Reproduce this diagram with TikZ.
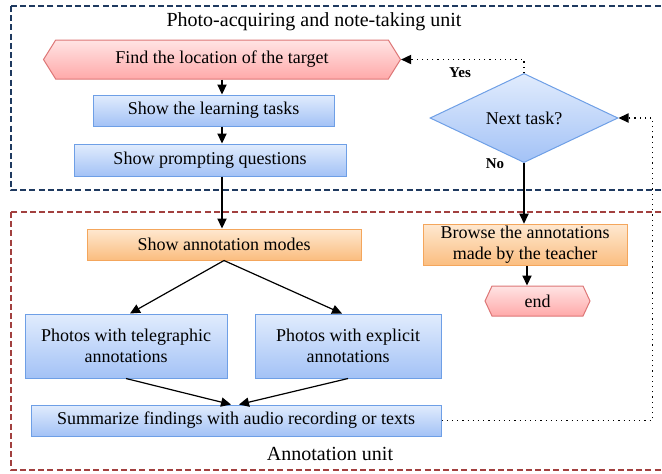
\documentclass[tikz,border=0pt]{standalone}
\usepackage{fontspec}
\setmainfont{Liberation Serif}
\usetikzlibrary{arrows.meta,positioning,calc,shapes.geometric,shapes.symbols}

\definecolor{bluetop}{HTML}{E1ECFD}
\definecolor{bluebot}{HTML}{A3C2F6}
\definecolor{blueedge}{HTML}{6E9FE6}
\definecolor{orgtop}{HTML}{FEE8D0}
\definecolor{orgbot}{HTML}{FBBD7F}
\definecolor{orgedge}{HTML}{F4A65C}
\definecolor{redtop}{HTML}{FFE4E4}
\definecolor{redbot}{HTML}{FFA9A9}
\definecolor{rededge}{HTML}{DD7676}
\definecolor{navyframe}{HTML}{1F3A60}
\definecolor{redframe}{HTML}{A2403F}

\begin{document}
\begin{tikzpicture}[
  x=0.5pt, y=-0.5pt,
  font=\fontsize{9}{10.6}\selectfont,
  >={Triangle[length=5pt,width=4.6pt]},
  box/.style={draw=blueedge, top color=bluetop, bottom color=bluebot,
              align=center, inner sep=1pt, line width=0.5pt},
  obox/.style={box, draw=orgedge, top color=orgtop, bottom color=orgbot},
  term/.style={box, draw=rededge, top color=redtop, bottom color=redbot,
               signal, signal to=west and east},
  decide/.style={box, diamond, inner sep=0pt},
  frame/.style={dashed, line width=0.9pt, dash pattern=on 3pt off 1.6pt},
  flow/.style={->, line width=0.6pt},
  back/.style={->, dotted, line width=0.6pt},
  unit/.style={font=\fontsize{10}{12}\selectfont},
  yn/.style={font=\fontsize{7.5}{9}\selectfont\bfseries}]
\clip (0,0) rectangle (662,473);
\useasboundingbox (0,0) rectangle (662,473);
% unit frames
\draw[frame, navyframe] (11,6) rectangle (690,190);
\draw[frame, redframe] (11,212) rectangle (690,470);
\node[unit] (unitA) at (314,22) {Photo-acquiring and note-taking unit};
\node[unit] (unitB) at (330,454) {Annotation unit};
% left column
\node[term, minimum width=178.5pt, minimum height=19.5pt,
      signal pointer angle=116] (find) at (222,59.5) {Find the location of the target};
\node[box, minimum width=120.5pt, minimum height=15.5pt] (tasks) at (213.5,110.5) {Show the learning tasks};
\node[box, minimum width=136pt, minimum height=16pt] (prompt) at (210,160) {Show prompting questions};
\node[obox, minimum width=137pt, minimum height=15.5pt] (modes) at (224,244.5) {Show annotation modes};
\node[box, minimum width=101pt, minimum height=32pt] (tele) at (126,346) {Photos with telegraphic\\annotations};
\node[box, minimum width=93pt, minimum height=32pt] (expl) at (348,346) {Photos with explicit\\annotations};
\node[box, minimum width=205pt, minimum height=15.5pt] (summ) at (236,420.5) {Summarize findings with audio recording or texts};
% right column
\node[decide, minimum width=94pt, minimum height=32pt] (next) at (524,118) {Next task?};
\node[obox, minimum width=102pt, minimum height=20pt] (browse) at (525,245) {Browse the annotations\\made by the teacher};
\node[term, minimum width=52.5pt, minimum height=15pt,
      signal pointer angle=130] (end) at (537.5,301) {end};
\node[yn] (yes) at (460,73) {Yes};
\node[yn] (no) at (495,164) {No};
% connectors
\draw[flow] (find.south) -- (find.south |- tasks.north);
\draw[flow] (find.south |- tasks.south) -- (find.south |- prompt.north);
\draw[flow] (find.south |- prompt.south) -- (find.south |- modes.north);
\draw[flow] (modes.south) -- ($(tele.north)+(4,0)$);
\draw[flow] (modes.south) -- ($(expl.north)+(-6,0)$);
\draw[flow] (tele.south) -- ($(summ.north)+(-5,0)$);
\draw[flow] (expl.south) -- ($(summ.north)+(3,0)$);
\draw[flow] (next.south) -- (next.south |- browse.north);
\draw[flow] ($(browse.south)+(2,0)$) -- ($(browse.south |- end.north)+(2,0)$);
\draw[back] (next.north) |- (find.east);
\draw[back] (summ.east) -- ++(211,0) |- (next.east);
\end{tikzpicture}
\end{document}
